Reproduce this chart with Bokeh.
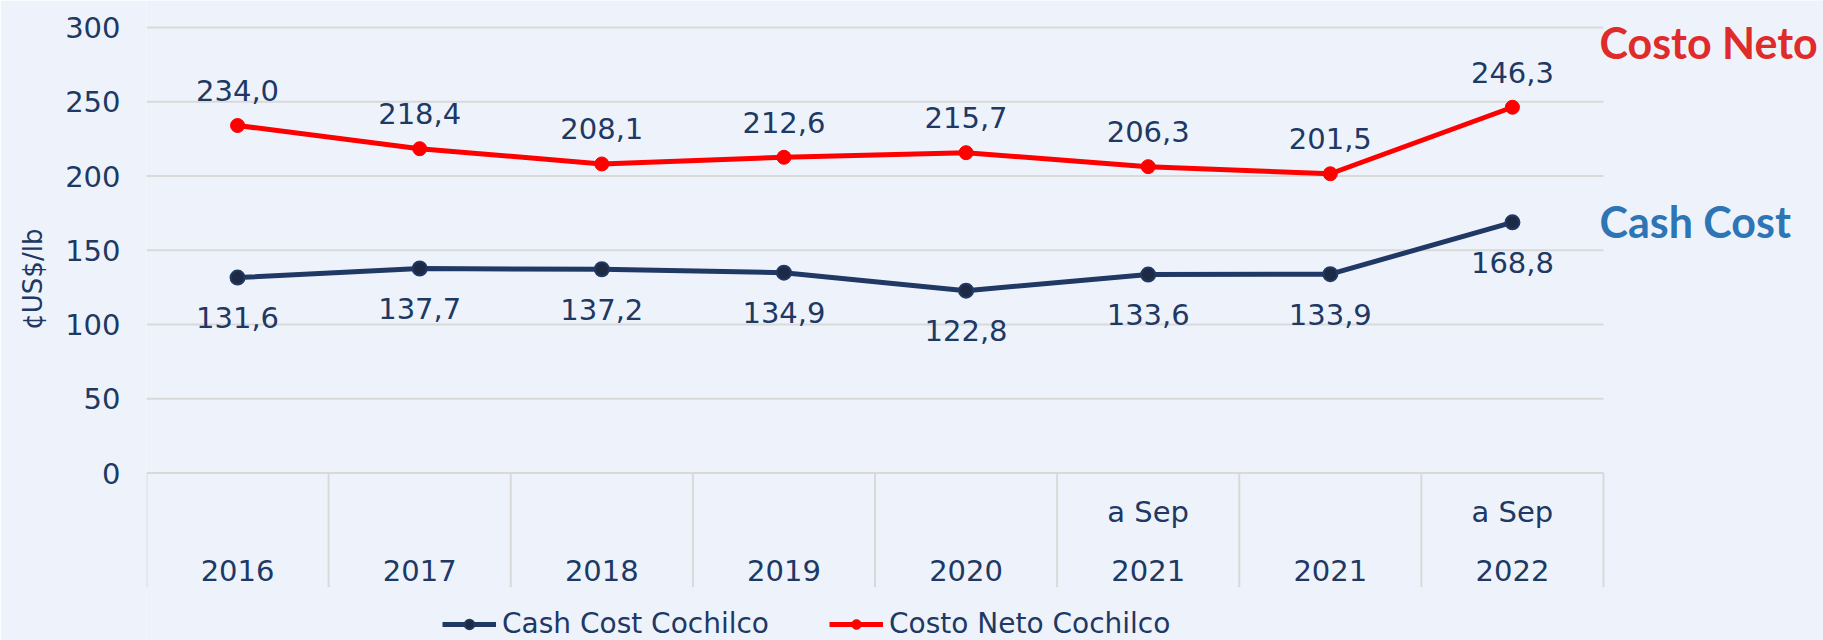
from bokeh.plotting import figure
from bokeh.models import Range1d, FixedTicker, Legend, LegendItem, Label, ColumnDataSource
from bokeh.core.properties import value
from bokeh.embed import file_html
from bokeh.resources import INLINE

# ---- data ----
years = ["2016", "2017", "2018", "2019", "2020", "2021", "2021", "2022"]
periods = ["", "", "", "", "", "a Sep", "", "a Sep"]
cash_cost = [131.6, 137.7, 137.2, 134.9, 122.8, 133.6, 133.9, 168.8]
costo_neto = [234.0, 218.4, 208.1, 212.6, 215.7, 206.3, 201.5, 246.3]
y_ticks = [0, 50, 100, 150, 200, 250, 300]

BG = "#EEF3FB"
NAVY = "#203864"
RED = "#FF0000"
GRID = "#D9D9D9"
FONT = "DejaVu Sans"

W, H = 1823, 640
LEFT = 146
PLOT_W = 1457            # width of the category table
PX_PER_UNIT = 1.485
n = len(years)
x_end = n * (W - LEFT) / PLOT_W
y_top = 300 + 27 / PX_PER_UNIT
y_bot = y_top - H / PX_PER_UNIT
table_bot = -(586.7 - 472.5) / PX_PER_UNIT

xc = [i + 0.5 for i in range(n)]
fmt = lambda v: f"{v:.1f}".replace(".", ",")

src = ColumnDataSource(dict(
    x=xc, cash=cash_cost, neto=costo_neto,
    cash_lbl=[fmt(v) for v in cash_cost], neto_lbl=[fmt(v) for v in costo_neto],
    year=years, period=periods,
))

p = figure(width=W, height=H, output_backend="svg", toolbar_location=None,
           x_range=Range1d(0, x_end), y_range=Range1d(y_bot, y_top), x_axis_type=None,
           min_border_left=LEFT, min_border_right=0, min_border_top=0, min_border_bottom=0)
p.background_fill_color = BG
p.border_fill_color = BG
p.outline_line_color = None

# y axis
p.yaxis.ticker = FixedTicker(ticks=y_ticks)
p.yaxis.axis_line_color = None
p.yaxis.major_tick_line_color = None
p.yaxis.minor_tick_line_color = None
p.yaxis.major_label_text_font = FONT
p.yaxis.major_label_text_font_size = "29px"
p.yaxis.major_label_text_color = NAVY
p.yaxis.major_label_standoff = 20
p.yaxis.axis_label = "\u00a0" * 10 + "¢US$/lb"
p.yaxis.axis_label_text_font = FONT
p.yaxis.axis_label_text_font_size = "26px"
p.yaxis.axis_label_text_font_style = "normal"
p.yaxis.axis_label_text_color = NAVY
p.yaxis.axis_label_standoff = 14
p.ygrid.grid_line_color = None
p.xgrid.grid_line_color = None

# horizontal gridlines across the category span
p.segment(x0=[0] * len(y_ticks), y0=y_ticks, x1=[n] * len(y_ticks), y1=y_ticks,
          line_color=GRID, line_width=2)

# category table below zero
bounds = list(range(n + 1))
p.segment(x0=bounds, y0=[0] * (n + 1), x1=bounds, y1=[table_bot] * (n + 1),
          line_color=GRID, line_width=2)
p.text(x="x", y=-65.7, text="year", source=src, text_align="center", text_baseline="middle",
       text_font=value(FONT), text_font_size="29px", text_color=NAVY)
p.text(x="x", y=-26.4, text="period", source=src, text_align="center", text_baseline="middle",
       text_font=value(FONT), text_font_size="29px", text_color=NAVY)

# series
l1 = p.line("x", "cash", source=src, line_color=NAVY, line_width=5)
s1 = p.scatter("x", "cash", source=src, size=14, fill_color="#1E2A44", line_color=NAVY, line_width=2)
l2 = p.line("x", "neto", source=src, line_color=RED, line_width=5)
s2 = p.scatter("x", "neto", source=src, size=14, fill_color=RED, line_color=RED)

p.text(x="x", y="cash", text="cash_lbl", source=src, y_offset=40, text_align="center",
       text_baseline="middle", text_font=value(FONT), text_font_size="29px", text_color=NAVY)
p.text(x="x", y="neto", text="neto_lbl", source=src, y_offset=-35, text_align="center",
       text_baseline="middle", text_font=value(FONT), text_font_size="29px", text_color=NAVY)

# side labels
p.add_layout(Label(x=n, y=289.9, x_offset=-4, text="Costo Neto", text_align="left",
                   text_baseline="middle", text_font="Lato", text_font_style="bold",
                   text_font_size="43px", text_color="#E02B2B"))
p.add_layout(Label(x=n, y=169.4, x_offset=-4, text="Cash Cost", text_align="left",
                   text_baseline="middle", text_font="Lato", text_font_style="bold",
                   text_font_size="43px", text_color="#2E75B6"))

legend = Legend(items=[LegendItem(label="Cash Cost Cochilco", renderers=[l1, s1]),
                       LegendItem(label="Costo Neto Cochilco", renderers=[l2, s2])],
                orientation="horizontal", location=(296, 0),
                label_text_font=FONT, label_text_font_size="28px",
                label_text_color=NAVY, glyph_width=54, glyph_height=24, label_standoff=6,
                spacing=60, padding=0, margin=0, border_line_color=None,
                background_fill_alpha=0)
p.add_layout(legend, "center")

html = file_html(p, INLINE)
html = html.replace("<body>", f'<body style="background:{BG}">', 1)
open("out.html", "w").write(html)
